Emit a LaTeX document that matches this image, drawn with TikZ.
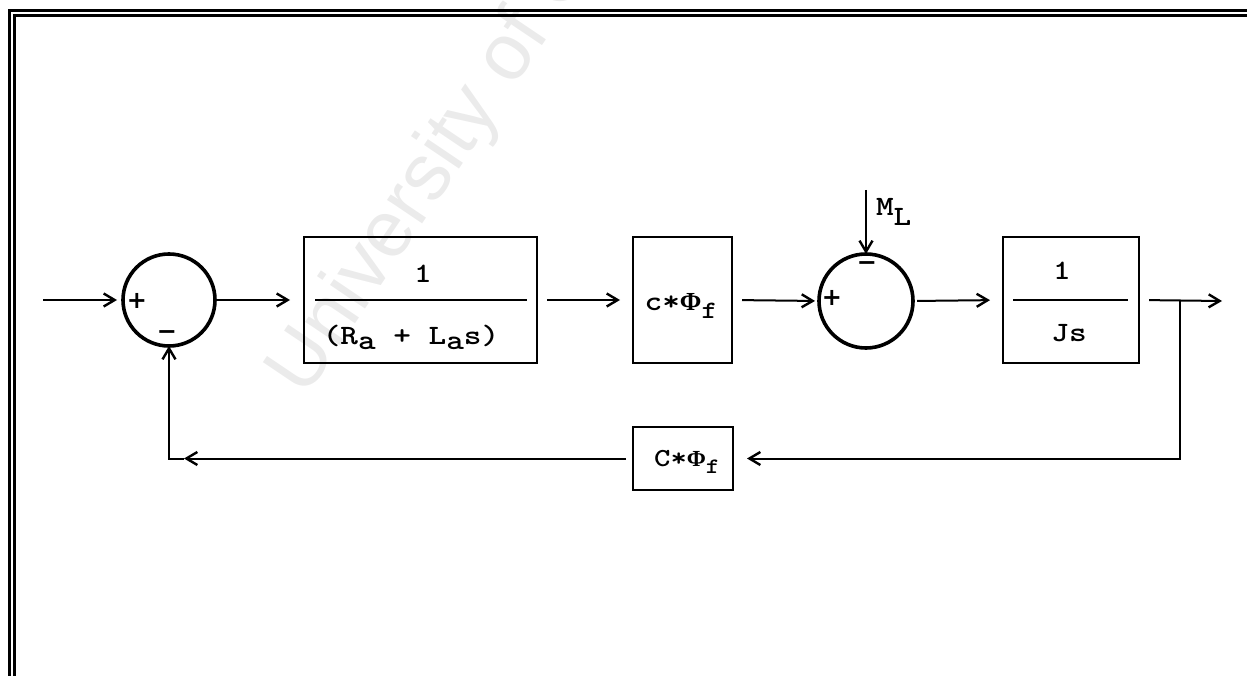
\documentclass[tikz,border=0pt]{standalone}
\usepackage{fontspec}
\usepackage{graphicx}
\usetikzlibrary{arrows.meta,calc}
\newfontfamily\wmfont{Liberation Sans}
\newfontfamily\sgnfont{DejaVu Sans}
\newfontfamily\phifont{Liberation Serif}
\newcommand\ptxt[1]{\scalebox{1.2}[1]{\ttfamily\bfseries #1}}
\newcommand\dn[2]{\raisebox{-#1pt}{#2}}
\newcommand\bigphi[1]{{\phifont\bfseries\fontsize{#1}{#1}\selectfont Φ}}
\begin{document}
\begin{tikzpicture}[x=1pt,y=-1pt,
  every node/.style={inner sep=0pt, outer sep=0pt},
  conn/.style={line width=2pt},
  arr/.style={conn, -{Straight Barb[length=11pt,width=13pt,line width=2.4pt]}},
  blk/.style={draw, line width=2.4pt, rectangle},
  sumc/.style={draw, circle, line width=3.6pt, minimum size=92pt},
  txt/.style={font=\fontsize{28}{30}\selectfont},
  ftxt/.style={font=\fontsize{26}{28}\selectfont},
  sgn/.style={font=\sgnfont\bfseries\fontsize{24}{24}\selectfont},
  wm/.style={text=black!8, font=\wmfont\fontsize{80}{86}\selectfont},
]
\useasboundingbox (0,0) rectangle (1247,676);
\begin{scope}
\clip (0,0) rectangle (1247,676);
\node[wm, rotate=56, anchor=base west] (wmark) at (305,398) {University of Cape Town};
\end{scope}

% frame
\draw[line width=3pt] (9.5,676) -- (9.5,11) -- (1247,11);
\draw[line width=2.5pt] (14.5,676) -- (14.5,15.5) -- (1247,15.5);

% blocks
\node[sumc] (s1) at (169,300) {};
\node[blk, minimum width=233pt, minimum height=126pt] (b1) at (420.5,300) {};
\node[blk, minimum width=99pt, minimum height=126pt] (b2) at (682.5,300) {};
\node[sumc, minimum size=94pt] (s2) at (866,301) {};
\node[blk, minimum width=136pt, minimum height=126pt] (b3) at (1071,300) {};
\node[blk, minimum width=100pt, minimum height=63pt] (fb) at (683,458.5) {};

% texts in blocks
\node[txt] (n1) at (423,274) {\ptxt{1}};
\draw[conn] ($(b1.west)+(11,0)$) -- ($(b1.east)+(-10,0)$);
\node[txt] (d1) at (411,337) {\ptxt{(R\dn{5}{a} + L\dn{5}{a}s)}};

\node[txt] (t2) at (681,306) {\ptxt{c*}\bigphi{26}\ptxt{\dn{8}{\fontsize{25}{25}\selectfont f}}};

\node[txt] (n3) at (1062,271) {\ptxt{1}};
\draw[conn] ($(b3.west)+(10,0)$) -- ($(b3.east)+(-11,0)$);
\node[txt] (d3) at (1069,333) {\ptxt{Js}};

\node[ftxt] (t4) at (687,462) {\ptxt{C*}\bigphi{23}\ptxt{\dn{7}{\fontsize{22}{22}\selectfont f}}};

\node[txt, anchor=west] (mlab) at (876,212) {\ptxt{M\dn{10}{L}}};

% signs
\node[sgn] (p1) at (137,301) {+};
\node[sgn] (m1) at (167,335) {−};
\node[sgn] (p2) at (832,298) {+};
\node[sgn] (m2) at (867,266) {−};

% connectors
\coordinate (in) at (43,300);
\coordinate (out) at (1222,301);
\coordinate (br) at (1180,301);
\coordinate (mltop) at (866,190);
\coordinate (fl) at ($(s1.south |- fb.west)+(15,0)$);

\draw[arr, shorten >=6pt] (in) -- (s1.west);
\draw[arr, shorten <=2pt, shorten >=14pt] (s1.east) -- (b1.west);
\draw[arr, shorten <=10pt, shorten >=13pt] (b1.east) -- (b2.west);
\draw[arr, shorten <=10pt, shorten >=4pt] (b2.east) -- (s2.west);
\draw[arr, shorten <=4pt, shorten >=13pt] (s2.east) -- (b3.west);
\draw[arr, shorten <=10pt] (b3.east) -- (out);
\draw[arr] (mltop) -- (s2.north);
\draw[arr, shorten >=14pt] (br) |- (fb.east);
\draw[arr, shorten <=7pt] (fb.west) -- (fl);
\draw[arr] (fl) -| (s1.south);
\end{tikzpicture}
\end{document}
